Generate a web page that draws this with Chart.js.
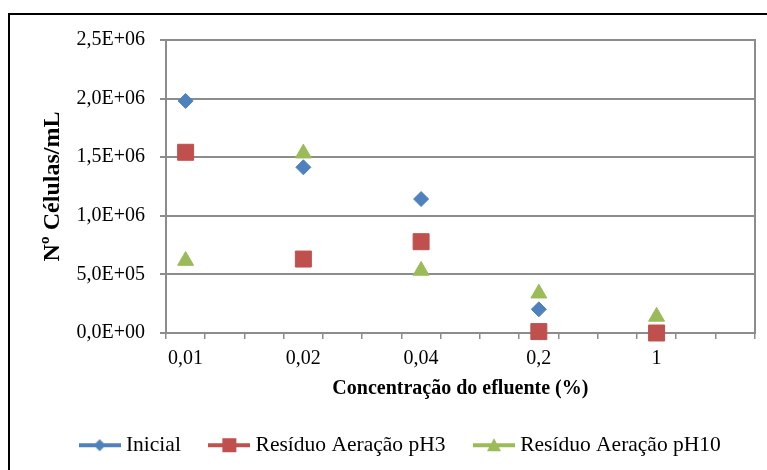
<!DOCTYPE html>
<html>
<head>
<meta charset="utf-8">
<script src="https://cdn.jsdelivr.net/npm/chart.js@4.4.0/dist/chart.umd.min.js"></script>
<style>
  html, body { margin: 0; padding: 0; background: #fff; overflow: hidden; }
  #frame { position: absolute; left: 8px; top: 13px; width: 820px; height: 520px; border: 2px solid #000; }
  #myChart { position: absolute; left: 0; top: 0; }
</style>
</head>
<body>
<div id="frame"></div>
<canvas id="myChart" width="767" height="470"></canvas>
<script>
let categories = ['0,01', '0,02', '0,04', '0,2', '1'];
let inicial = [1980000, 1414000, 1143000, 202000, 0];
let residuoPH3 = [1542000, 631000, 779000, 12000, 0];
let residuoPH10 = [617000, 1533000, 532000, 338000, 140000];
let yTickLabels = ['0,0E+00', '5,0E+05', '1,0E+06', '1,5E+06', '2,0E+06', '2,5E+06'];
let colors = ['#4F81BD', '#C0504D', '#9BBB59'];

let serif = "'Liberation Serif', 'Times New Roman', serif";
let gray = '#8c8c8c';

// excel axis has 15 slots, one category every 3rd slot
let slotsPerCat = 3;
let totalSlots = 15;
let labels = [];
for (let i = 0; i < totalSlots; i++) {
  let c = categories[i / slotsPerCat];
  labels.push(i % slotsPerCat == 0 && c !== undefined ? c : '');
}
function toSlots(values) {
  let out = new Array(totalSlots).fill(null);
  values.forEach((v, i) => { out[i * slotsPerCat] = v; });
  return out;
}

// line + marker icon for the legend
function legendIcon(color, style) {
  let c = document.createElement('canvas');
  c.width = 42; c.height = 16;
  let g = c.getContext('2d');
  g.strokeStyle = color;
  g.lineWidth = 4;
  g.beginPath(); g.moveTo(0, 8); g.lineTo(42, 8); g.stroke();
  g.fillStyle = color;
  g.beginPath();
  if (style == 'rectRot') {
    g.moveTo(21, 2); g.lineTo(27, 8); g.lineTo(21, 14); g.lineTo(15, 8);
  } else if (style == 'rect') {
    g.rect(14, 1, 14, 14);
  } else {
    g.moveTo(21, 1); g.lineTo(28, 14); g.lineTo(14, 14);
  }
  g.closePath();
  g.fill();
  return c;
}
let icons = [legendIcon(colors[0], 'rectRot'), legendIcon(colors[1], 'rect'), legendIcon(colors[2], 'triangle')];

let ctx = document.getElementById('myChart').getContext('2d');
let chart = new Chart(ctx, {
  type: 'line',
  data: {
    labels: labels,
    datasets: [
      { label: 'Inicial', data: toSlots(inicial), showLine: false, clip: false,
        pointStyle: 'rectRot', pointRadius: 7.5, pointBorderWidth: 1,
        backgroundColor: colors[0], borderColor: colors[0], order: 2 },
      { label: 'Resíduo Aeração pH3', data: toSlots(residuoPH3), showLine: false, clip: false,
        pointStyle: 'rect', pointRadius: 11.3, pointBorderWidth: 1,
        backgroundColor: colors[1], borderColor: colors[1], order: 1 },
      { label: 'Resíduo Aeração pH10', data: toSlots(residuoPH10), showLine: false, clip: false,
        pointStyle: 'triangle', pointRadius: 9.2, pointBorderWidth: 1,
        backgroundColor: colors[2], borderColor: colors[2], order: 0 }
    ]
  },
  options: {
    responsive: false,
    animation: false,
    devicePixelRatio: 1,
    layout: { padding: { left: 49, right: 11, top: 40, bottom: 4 } },
    plugins: {
      tooltip: { enabled: false },
      legend: {
        position: 'bottom',
        labels: {
          usePointStyle: true,
          pointStyleWidth: 31,
          padding: 33,
          color: '#000',
          font: { family: serif, size: 21.5 },
          generateLabels: function (chart) {
            return chart.data.datasets.map((ds, i) => ({
              text: ds.label,
              pointStyle: icons[i],
              datasetIndex: i,
              fillStyle: ds.backgroundColor,
              strokeStyle: ds.borderColor,
              lineWidth: 0,
              hidden: false,
              fontColor: '#000'
            }));
          }
        }
      }
    },
    scales: {
      x: {
        offset: true,
        grid: { offset: true, drawOnChartArea: false, tickLength: 6, color: gray, lineWidth: 1.5 },
        border: { color: gray, width: 2 },
        ticks: { autoSkip: false, maxRotation: 0, padding: 8, color: '#000', font: { family: serif, size: 20 } },
        title: {
          display: true, text: 'Concentração do efluente (%)', color: '#000',
          font: { family: serif, size: 20, weight: 'bold' },
          padding: { top: 0, bottom: 1 }
        },
        afterFit: function (s) { s.height = 68.5; }
      },
      y: {
        min: 0, max: 2500000,
        ticks: {
          stepSize: 500000, padding: 15, color: '#000',
          font: { family: serif, size: 20 },
          callback: function (v, i) { return yTickLabels[i]; }
        },
        grid: { color: gray, lineWidth: 2, tickLength: 6 },
        border: { color: gray, width: 2 },
        title: {
          display: true, text: 'Nº Células/mL', color: '#000',
          font: { family: serif, size: 24, weight: 'bold' },
          padding: { top: -11, bottom: 0 }
        },
        afterFit: function (s) { s.width = 117; }
      },
      y2: {
        position: 'right', min: 0, max: 2500000,
        ticks: { display: false },
        grid: { display: false },
        border: { color: gray, width: 2 },
        afterFit: function (s) { s.width = 0; }
      }
    }
  }
});
</script>
</body>
</html>
